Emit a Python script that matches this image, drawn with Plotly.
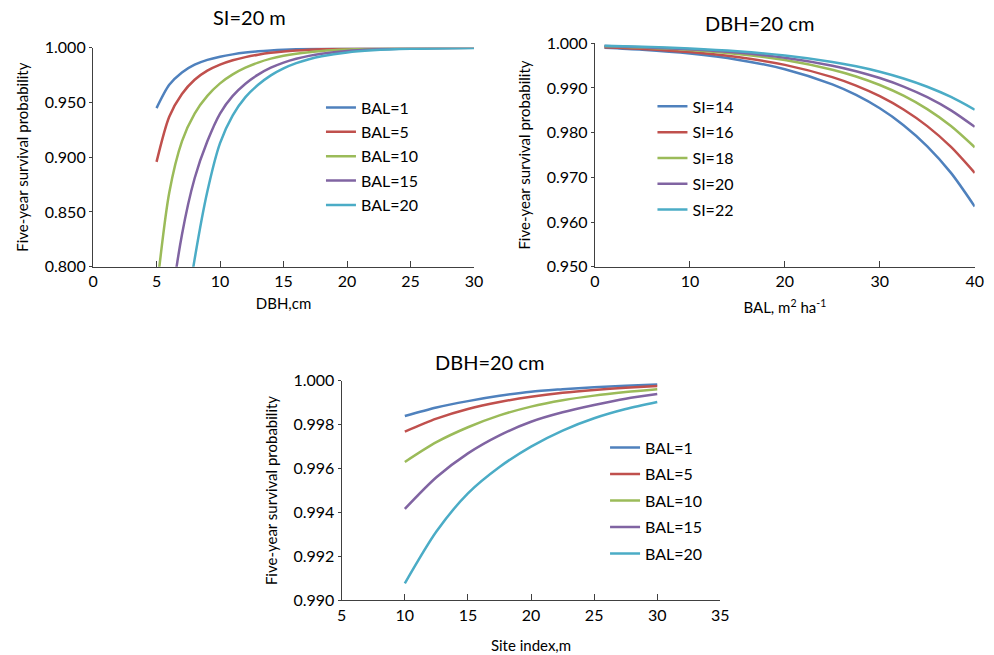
import plotly.graph_objects as go

# ---------------- Data ----------------
# Panel 1: SI = 20 m, survival vs DBH for several BAL levels
dbh = [5, 6, 7, 8, 9, 10, 11, 12, 13, 14, 15, 16, 17, 18, 20, 22, 25, 30]
p1_bal1 = [0.9448, 0.9661, 0.9774, 0.9845, 0.9889, 0.9918, 0.9939, 0.9955, 0.99667, 0.99753,
           0.99816, 0.99864, 0.99899, 0.99925, 0.99959, 0.99978, 0.99991, 0.99998]
p1_bal5 = [0.8957, 0.9370, 0.9577, 0.9707, 0.9790, 0.9845, 0.9885, 0.9914, 0.9936, 0.9953,
           0.9965, 0.9974, 0.9981, 0.9986, 0.9992, 0.99957, 0.99983, 0.99996]
p1_bal10 = [0.7773, 0.8676, 0.9145, 0.9399, 0.9560, 0.9674, 0.9756, 0.9817, 0.9864, 0.9900,
            0.9926, 0.9945, 0.9959, 0.9970, 0.9983, 0.9991, 0.99963, 0.99992]
p1_bal15 = [0.6318, 0.7503, 0.8292, 0.8808, 0.9145, 0.9399, 0.9560, 0.9671, 0.9754, 0.9817,
            0.9864, 0.9899, 0.9925, 0.9944, 0.9969, 0.9983, 0.9993, 0.99985]
p1_bal20 = [0.4726, 0.6225, 0.7291, 0.8069, 0.8687, 0.9129, 0.9382, 0.9548, 0.9661, 0.9747,
            0.9811, 0.9859, 0.9895, 0.9922, 0.9957, 0.9976, 0.9990, 0.9998]
p1_names = ["BAL=1", "BAL=5", "BAL=10", "BAL=15", "BAL=20"]

# Panel 2: DBH = 20 cm, survival vs BAL for several site indices
bal = [1, 5, 10, 15, 20, 25, 27.5, 30, 32.5, 35, 37.5, 40]
p2_si14 = [0.99899, 0.99854, 0.99769, 0.99634, 0.99420, 0.99081, 0.98844, 0.98545, 0.98168,
           0.97695, 0.97100, 0.96348]
p2_si16 = [0.99912, 0.99874, 0.99803, 0.99691, 0.99517, 0.99243, 0.99053, 0.98816, 0.98518,
           0.98146, 0.97681, 0.97100]
p2_si18 = [0.99934, 0.99905, 0.99850, 0.99763, 0.99626, 0.99409, 0.99257, 0.99066, 0.98827,
           0.98526, 0.98147, 0.97672]
p2_si20 = [0.99939, 0.99913, 0.99865, 0.99792, 0.99677, 0.99499, 0.99376, 0.99222, 0.99032,
           0.98795, 0.98500, 0.98131]
p2_si22 = [0.99945, 0.99923, 0.99883, 0.99821, 0.99727, 0.99583, 0.99485, 0.99364, 0.99213,
           0.99028, 0.98799, 0.98515]
p2_names = ["SI=14", "SI=16", "SI=18", "SI=20", "SI=22"]

# Panel 3: DBH = 20 cm, survival vs site index for several BAL levels
si = [10, 12.5, 15, 17.5, 20, 22.5, 25, 27.5, 30]
p3_bal1 = [0.99839, 0.99878, 0.99907, 0.99931, 0.99950, 0.99961, 0.99970, 0.99977, 0.99983]
p3_bal5 = [0.99768, 0.99827, 0.99871, 0.99903, 0.99927, 0.99945, 0.99958, 0.99968, 0.99976]
p3_bal10 = [0.99630, 0.99720, 0.99788, 0.99842, 0.99882, 0.99911, 0.99932, 0.99948, 0.99961]
p3_bal15 = [0.99416, 0.99560, 0.99669, 0.99751, 0.99813, 0.99856, 0.99889, 0.99918, 0.99939]
p3_bal20 = [0.99077, 0.99313, 0.99487, 0.99607, 0.99700, 0.99773, 0.99829, 0.99871, 0.99903]
p3_names = ["BAL=1", "BAL=5", "BAL=10", "BAL=15", "BAL=20"]

colors = ["#4F81BD", "#C0504D", "#9BBB59", "#8064A2", "#4BACC6"]

FONT = "Lato, 'Open Sans', sans-serif"
AX_COLOR = "#404040"

fig = go.Figure()

panels = [
    (dbh, [p1_bal1, p1_bal5, p1_bal10, p1_bal15, p1_bal20], p1_names, "x", "y", "legend"),
    (bal, [p2_si14, p2_si16, p2_si18, p2_si20, p2_si22], p2_names, "x2", "y2", "legend2"),
    (si, [p3_bal1, p3_bal5, p3_bal10, p3_bal15, p3_bal20], p3_names, "x3", "y3", "legend3"),
]

for xs, series, names, xa, ya, lg in panels:
    for i, (ys, nm) in enumerate(zip(series, names)):
        fig.add_trace(go.Scatter(
            x=xs, y=ys, name=nm, mode="lines",
            line=dict(color=colors[i], width=2.5, shape="spline", smoothing=0.8),
            xaxis=xa, yaxis=ya, legend=lg, legendgroup=lg + str(i),
            showlegend=True,
        ))

def xaxis(domain, rng, dtick, anchor, title, standoff):
    return dict(domain=domain, range=rng, dtick=dtick, tick0=0, anchor=anchor, automargin=False,
                showgrid=False, zeroline=False, showline=True, linecolor=AX_COLOR, linewidth=1.3,
                ticks="inside", ticklen=6, tickwidth=1.3, tickcolor=AX_COLOR,
                tickfont=dict(family=FONT, size=16, color="black"),
                title=dict(text=title, font=dict(family=FONT, size=15, color="black"),
                           standoff=standoff),
                fixedrange=True)

def yaxis(domain, rng, dtick, anchor, fmt):
    return dict(domain=domain, range=rng, dtick=dtick, tick0=0, anchor=anchor, tickformat=fmt,
                automargin=False,
                showgrid=False, zeroline=False, showline=True, linecolor=AX_COLOR, linewidth=1.3,
                ticks="outside", ticklen=3, tickwidth=1.3, tickcolor=AX_COLOR,
                tickfont=dict(family=FONT, size=16, color="black"),
                title=dict(text="Five-year survival probability",
                           font=dict(family=FONT, size=15, color="black"), standoff=12),
                fixedrange=True)

def legend(x, y, gap):
    return dict(x=x, y=y, xanchor="left", yanchor="top", bgcolor="rgba(0,0,0,0)",
                font=dict(family=FONT, size=16, color="black"), tracegroupgap=gap,
                itemwidth=30, borderwidth=0)

def title_ann(text, px, py):
    return dict(text=text, x=px / 994, y=1 - py / 655, xref="paper", yref="paper",
                xanchor="center", yanchor="middle",
                showarrow=False, font=dict(family=FONT, size=20, color="black"))

fig.update_layout(
    width=994, height=655,
    margin=dict(l=0, r=0, t=0, b=0, autoexpand=False),
    paper_bgcolor="white", plot_bgcolor="white",
    showlegend=True,
    xaxis=xaxis([0.0936, 0.4769], [0, 30], 5, "y", "DBH,cm", 9),
    yaxis=yaxis([0.5928, 0.9272], [0.8, 1.0], 0.05, "x", ".3f"),
    xaxis2=xaxis([0.5986, 0.9806], [0, 40], 10, "y2", "BAL, m<sup>2</sup> ha<sup>-1</sup>", 13),
    yaxis2=yaxis([0.5928, 0.9339], [0.95, 1.0], 0.01, "x2", ".3f"),
    xaxis3=xaxis([0.3438, 0.7247], [5, 35], 5, "y3", "Site index,m", 17),
    yaxis3=yaxis([0.0835, 0.4188], [0.99, 1.0], 0.002, "x3", ".3f"),
    legend=legend(0.3229, 0.8618, 0.6),
    legend2=legend(0.6564, 0.8634, 2.0),
    legend3=legend(0.6087, 0.3427, 2.7),
    annotations=[
        title_ann("SI=20 m", 250, 17),
        title_ann("DBH=20 cm", 759, 23),
        title_ann("DBH=20 cm", 489, 362),
    ],
)

fig.write_html("out.html", config={"displayModeBar": False})
